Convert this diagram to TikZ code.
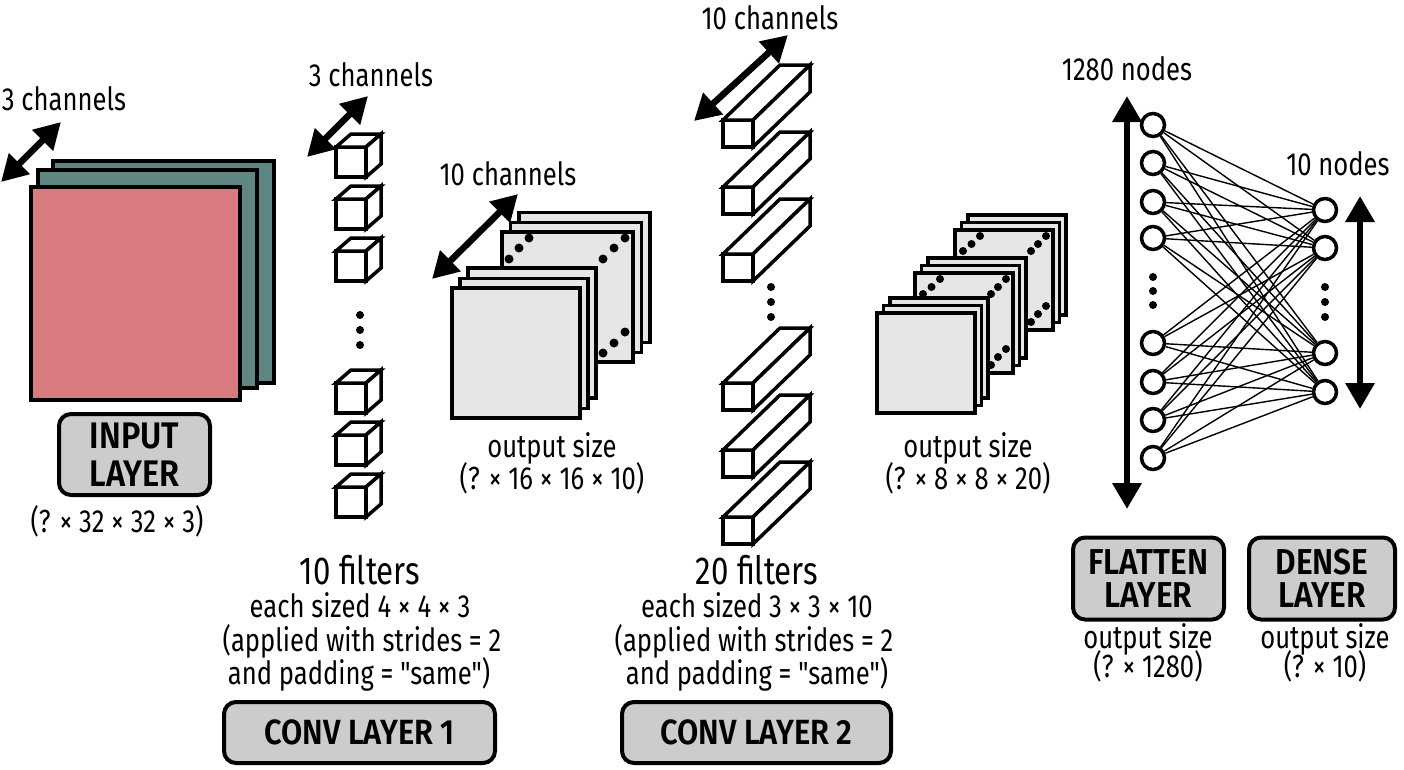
\documentclass[tikz,border=0pt]{standalone}
\usepackage{fontspec}
\setmainfont{Fira Sans}[FakeStretch=0.8, BoldFont={Fira Sans SemiBold}, BoldFeatures={FakeStretch=0.88}, Ligatures=TeXOff]
\usetikzlibrary{arrows.meta}
\definecolor{pinkc}{RGB}{215,123,128}
\definecolor{tealc}{RGB}{95,134,130}
\definecolor{boxg}{RGB}{204,204,204}
\definecolor{sqg}{RGB}{230,230,230}
\begin{document}
\begin{tikzpicture}[x=1pt,y=-1pt,
  lbl/.style={font=\fontsize{32}{34}\selectfont, inner sep=0, anchor=base},
  biglbl/.style={font=\fontsize{39}{40}\selectfont, inner sep=0, anchor=base},
  layerbox/.style={draw, line width=4, rounded corners=12, fill=boxg, inner sep=0, align=center},
  dbl/.style={line width=6.5, {Triangle[length=26pt,width=28pt]}-{Triangle[length=26pt,width=28pt]}},
  sheet/.style={draw, line width=3.5, fill=sqg},
  solid3d/.style={draw, line width=3.5, fill=white, line join=miter},
  neuron/.style={circle, draw, line width=3.5, minimum size=23, inner sep=0, fill=white},
  edge/.style={line width=1.4},
  ]
\useasboundingbox (0,0) rectangle (1404,769);

% ---------- input layer ----------
\draw[line width=3.5, fill=tealc] (53,161) rectangle (274,383);
\draw[line width=3.5, fill=tealc] (38,170) rectangle (257,388);
\draw[line width=3.5, fill=pinkc] (31,187) rectangle (240,400);
\coordinate (ia) at (1,182);
\coordinate (ib) at (61,122);
\draw[dbl] (ia) -- (ib);
\node[lbl] (ich) at (64,110) {3 channels};
\node[layerbox, minimum width=151, minimum height=81, font=\bfseries\fontsize{37}{38}\selectfont] (ibox) at (134.5,454.5) {INPUT\\LAYER};
\node[lbl] (isz) at (117,532) {(? × 32 × 32 × 3)};

% ---------- conv1 filters (cubes) ----------
\foreach \yb in {177,229,281,413,465,517}{
  \draw[solid3d] (336,\yb-30) rectangle (366,\yb);
  \draw[solid3d] (336,\yb-30) -- (351,\yb-43) -- (381,\yb-43) -- (366,\yb-30) -- cycle;
  \draw[solid3d] (366,\yb-30) -- (381,\yb-43) -- (381,\yb-13) -- (366,\yb) -- cycle;
}
\foreach \yd in {315,330,345} \fill (360,\yd) circle (4);
\coordinate (c1a) at (307,157);
\coordinate (c1b) at (368,96);
\draw[dbl] (c1a) -- (c1b);
\node[lbl] (c1ch) at (371,86) {3 channels};

\node[biglbl] (f1a) at (360,584) {10 filters};
\node[lbl] (f1b) at (360,617) {each sized 4 × 4 × 3};
\node[lbl] (f1c) at (362,651) {(applied with strides = 2};
\node[lbl] (f1d) at (359,684) {and padding = "same")};
\node[layerbox, minimum width=271, minimum height=61, font=\bfseries\fontsize{35}{36}\selectfont] (c1box) at (359.5,732.5) {CONV LAYER 1};

% ---------- conv1 output ----------
\foreach \dx/\dy in {17/-19.5, 8.5/-9.5, 0/0}
  \draw[sheet] (502+\dx,232+\dy) rectangle ++(131,130);
\foreach \px/\py in {27/6,17/16,7/27,123/6,112/16,101/27,123/100,112/111,101/121}
  \fill (502+\px,232+\py) circle (4.5);
\foreach \dx/\dy in {16/-20, 8/-9.5, 0/0}
  \draw[sheet] (452+\dx,288+\dy) rectangle ++(128,130);
\coordinate (o1a) at (432,279);
\coordinate (o1b) at (518,194);
\draw[dbl] (o1a) -- (o1b);
\node[lbl] (o1ch) at (508,185) {10 channels};
\node[lbl] (o1s) at (552,457) {output size};
\node[lbl] (o1d) at (552,489) {(? × 16 × 16 × 10)};

% ---------- conv2 filters (bars) ----------
\foreach \yt in {120,187,254,383,450,517}{
  \draw[solid3d] (723,\yt) rectangle (753,\yt+27);
  \draw[solid3d] (723,\yt) -- (780,\yt-55) -- (810,\yt-55) -- (753,\yt) -- cycle;
  \draw[solid3d] (753,\yt) -- (810,\yt-55) -- (810,\yt-28) -- (753,\yt+27) -- cycle;
}
\foreach \yd in {287,302,317} \fill (771,\yd) circle (4);
\coordinate (c2a) at (694,121);
\coordinate (c2b) at (788,35);
\draw[dbl] (c2a) -- (c2b);
\node[lbl] (c2ch) at (770,29) {10 channels};

\node[biglbl] (f2a) at (757,584) {20 filters};
\node[lbl] (f2b) at (757,617) {each sized 3 × 3 × 10};
\node[lbl] (f2c) at (754,651) {(applied with strides = 2};
\node[lbl] (f2d) at (757,684) {and padding = "same")};
\node[layerbox, minimum width=269, minimum height=61, font=\bfseries\fontsize{35}{36}\selectfont] (c2box) at (756.5,732.5) {CONV LAYER 2};

% ---------- conv2 output ----------
\foreach \gx/\gy/\hasdots in {955/230/1, 915/273/1, 877/313/0}{
  \foreach \dx/\dy in {13/-15, 6.5/-7.5, 0/0}
    \draw[sheet] (\gx+\dx,\gy+\dy) rectangle ++(98,100);
  \ifnum\hasdots=1
    \foreach \px/\py in {25/6,16.5/14,8/21,91/6,83/14,76/21,91/76,83/84,76/92}
      \fill (\gx+\px,\gy+\py) circle (4);
  \fi
}
\node[lbl] (o2s) at (968,457) {output size};
\node[lbl] (o2d) at (968,489) {(? × 8 × 8 × 20)};

% ---------- flatten / dense ----------
\foreach \i/\yy in {1/125,2/163,3/202,4/238,5/343,6/382,7/420,8/458}
  \node[neuron] (L\i) at (1153,\yy) {};
\foreach \j/\yy in {1/210,2/248,3/353,4/392}
  \node[neuron] (R\j) at (1325,\yy) {};
\foreach \i in {1,...,8}
  \foreach \j in {1,...,4}
    \draw[edge] (L\i) -- (R\j);
\foreach \yd in {277,291,305} \fill (1153,\yd) circle (4);
\foreach \yd in {287,302,317} \fill (1325,\yd) circle (4);
\coordinate (fa) at (1127,96);
\coordinate (fb) at (1127,509);
\draw[dbl] (fa) -- (fb);
\coordinate (da) at (1360,196);
\coordinate (db) at (1360,409);
\draw[dbl] (da) -- (db);
\node[lbl] (fn) at (1127,80) {1280 nodes};
\node[lbl] (dn) at (1338,175) {10 nodes};

\node[layerbox, minimum width=151, minimum height=82, font=\bfseries\fontsize{36}{33}\selectfont] (fbox) at (1148.5,578.5) {FLATTEN\\LAYER};
\node[lbl] (fs) at (1148,648) {output size};
\node[lbl] (fd) at (1148,677) {(? × 1280)};

\node[layerbox, minimum width=146, minimum height=82, font=\bfseries\fontsize{36}{33}\selectfont] (dbox) at (1322,578.5) {DENSE\\LAYER};
\node[lbl] (ds) at (1325,648) {output size};
\node[lbl] (dd) at (1325,677) {(? × 10)};
\end{tikzpicture}
\end{document}
